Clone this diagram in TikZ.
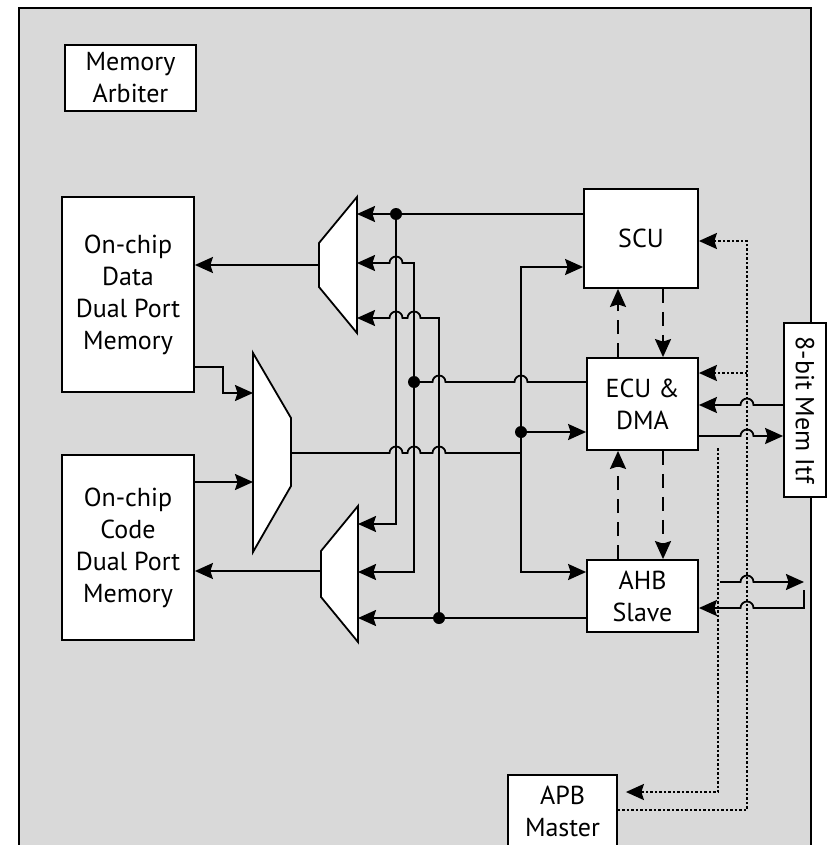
\documentclass[tikz,border=0pt]{standalone}
\usepackage{fontspec}
\setmainfont{PT Sans}
\usetikzlibrary{arrows.meta,calc}
\tikzset{
  frame/.style={draw=black, fill=black!15, line width=1.8pt},
  blk/.style={
    draw=black, fill=white, line width=1.8pt, align=center,
    inner sep=0pt, font=\fontsize{26}{32}\selectfont
  },
  mux/.style={draw=black, fill=white, line width=1.8pt, line join=miter},
  wire/.style={draw=black, line width=1.8pt},
  arr/.style={wire, -{Stealth[length=18pt,width=16pt,inset=2.5pt]}},
  darr/.style={arr, line width=2.2pt, dash pattern=on 14pt off 9pt},
  oarr/.style={arr, line width=2.2pt, dash pattern=on 2.5pt off 2pt},
  jdot/.style={fill=black}
}
% line hop over a vertical wire, going right / going left
\newcommand\hopr[1]{-- ($(#1)+(-6.5,0)$) arc[start angle=180, end angle=0, radius=6.5pt]}
\newcommand\hopl[1]{-- ($(#1)+(6.5,0)$) arc[start angle=0, end angle=180, radius=6.5pt]}

\begin{document}
\begin{tikzpicture}[x=1pt, y=-1pt]
  \useasboundingbox (0,0) rectangle (828,845);
  \clip (0,0) rectangle (828,845);
  \draw[frame] (19,8) rectangle (811,900);

  % blocks
  \node[blk, minimum width=131, minimum height=66] (arb) at (130.5,78) {Memory\\Arbiter};
  \node[blk, minimum width=132, minimum height=195] (dmem) at (128,294.5)
    {On-chip\\Data\\Dual Port\\Memory};
  \node[blk, minimum width=132, minimum height=185] (cmem) at (128,547.5)
    {On-chip\\Code\\Dual Port\\Memory};
  \node[blk, minimum width=114, minimum height=99] (scu) at (641,238.5) {SCU};
  \node[blk, minimum width=111, minimum height=92] (ecu) at (642.5,404) {ECU \&\\DMA};
  \node[blk, minimum width=111, minimum height=72] (ahb) at (642.5,596) {AHB\\Slave};
  \node[blk, minimum width=109, minimum height=74, anchor=north] (apb) at (562.5,774) {APB\\Master};
  \node[blk, rotate=-90, minimum width=174, minimum height=42] (itf) at (805,410) {8-bit Mem Itf};

  % muxes
  \draw[mux] (357,197) -- (319,243) -- (319,287) -- (357,333) -- cycle;
  \draw[mux] (358,506) -- (321,551) -- (321,597) -- (358,642) -- cycle;
  \draw[mux] (253,353) -- (291,418) -- (291,486) -- (253,552) -- cycle;
  \coordinate (mxd-in1) at (357,214);
  \coordinate (mxd-in2) at (357,263);
  \coordinate (mxd-in3) at (357,318);
  \coordinate (mxd-out) at (319,265);
  \coordinate (mxc-in1) at (358,524);
  \coordinate (mxc-in2) at (358,572);
  \coordinate (mxc-in3) at (358,618);
  \coordinate (mxc-out) at (321,571);
  \coordinate (mxr-ina) at (253,393);
  \coordinate (mxr-inb) at (253,482);
  \coordinate (mxr-out) at (291,453);

  % bus junctions
  \coordinate (v1) at (396,214);
  \coordinate (v2) at (414,382);
  \coordinate (v3) at (439,618);
  \coordinate (v4) at (521,432);
  \coordinate (dq) at (223,367);
  \coordinate (r-scu) at (521,267);
  \coordinate (r-ahb) at (521,572);
  \coordinate (xl) at (618,0);
  \coordinate (xr) at (663,0);
  \coordinate (m-in) at (747,405);
  \coordinate (m-out) at (747,436);
  \coordinate (s-out) at (747,582);
  \coordinate (s-in) at (747,608);
  \coordinate (s-start) at (720,582);
  \coordinate (s-end) at (804,582);
  \coordinate (s-ret) at (804,590);
  \coordinate (b1) at (747,241);
  \coordinate (b2) at (747,373);
  \coordinate (b3) at (747,810);
  \coordinate (c1) at (718,448);
  \coordinate (c2) at (718,792);

  % memories <-> muxes
  \draw[arr] (mxd-out) -- (dmem.east |- mxd-out);
  \draw[arr] (mxc-out) -- (cmem.east |- mxc-out);
  \draw[arr] (dmem.east |- dq) -- (dq) |- (mxr-ina);
  \draw[arr] (cmem.east |- mxr-inb) -- (mxr-inb);

  % write buses
  \draw[arr] (scu.west |- v1) -- (mxd-in1);
  \draw[arr] (v1) |- (mxc-in1);
  \draw[wire] (ecu.west |- v2) \hopl{v4 |- v2} \hopl{v3 |- v2} -- (v2);
  \draw[arr] (v2) |- (mxc-in2);
  \draw[arr] (v2) -- (v2 |- mxd-in2) \hopl{v1 |- mxd-in2} -- (mxd-in2);
  \draw[wire] (ahb.west |- v3) -- (v3);
  \draw[arr] (v3) -- (mxc-in3);
  \draw[arr] (v3) -- (v3 |- mxd-in3) \hopl{v2 |- mxd-in3} \hopl{v1 |- mxd-in3} -- (mxd-in3);

  % read bus
  \draw[wire] (mxr-out) \hopr{v1 |- mxr-out} \hopr{v2 |- mxr-out} \hopr{v3 |- mxr-out}
    -- (v4 |- mxr-out);
  \draw[arr] (v4 |- mxr-out) |- (scu.west |- r-scu);
  \draw[arr] (v4 |- mxr-out) |- (ahb.west |- r-ahb);
  \draw[arr] (v4) -- (ecu.west |- v4);
  \foreach \j in {v1,v2,v3,v4}
    \fill[jdot] (\j) circle[radius=6pt];

  % control between blocks
  \draw[darr] (ecu.north -| xl) -- (scu.south -| xl);
  \draw[darr] (scu.south -| xr) -- (ecu.north -| xr);
  \draw[darr] (ahb.north -| xl) -- (ecu.south -| xl);
  \draw[darr] (ecu.south -| xr) -- (ahb.north -| xr);

  % external interfaces
  \draw[arr] (itf.south |- m-in) \hopl{m-in} -- (ecu.east |- m-in);
  \draw[arr] (ecu.east |- m-out) \hopr{m-out} -- (itf.south |- m-out);
  \draw[arr] (s-start) \hopr{s-out} -- (s-end);
  \draw[arr] (s-ret) -- (s-ret |- s-in) \hopl{s-in} -- (ahb.east |- s-in);

  % APB
  \draw[oarr] (apb.east |- b3) -| (b1) -- (scu.east |- b1);
  \draw[oarr] (b2) -- (ecu.east |- b2);
  \draw[oarr, shorten >=8pt] (c1) |- (apb.east |- c2);
\end{tikzpicture}
\end{document}
